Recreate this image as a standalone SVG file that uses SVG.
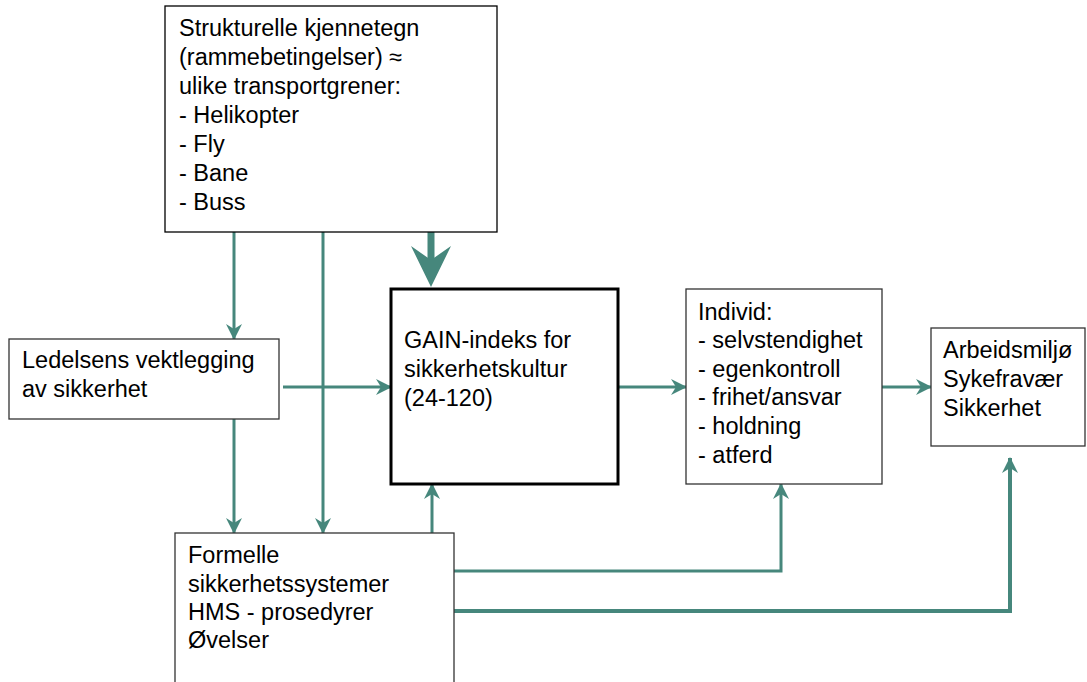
<svg xmlns="http://www.w3.org/2000/svg" width="1087" height="682" viewBox="0 0 1087 682">
<style>
.box{fill:#fff;stroke:#333;stroke-width:1.3}
.main{fill:#fff;stroke:#000;stroke-width:3}
text{font-family:"Liberation Sans",Arial,sans-serif;font-size:23.5px;fill:#000}
.c{fill:none;stroke:#46877C;stroke-width:3}
</style>
<defs>
<marker id="ah" viewBox="0 0 16 16" refX="15" refY="8" markerWidth="16" markerHeight="16" markerUnits="userSpaceOnUse" orient="auto">
<path d="M0,0 L16,8 L0,16 L5,8 z" fill="#46877C"/>
</marker>
</defs>
<rect width="1087" height="682" fill="#fff"/>
<g id="connectors">
<path class="c" d="M234,232 V339" marker-end="url(#ah)"/>
<path class="c" d="M323,232 V533" marker-end="url(#ah)"/>
<path class="c" d="M234,419 V533" marker-end="url(#ah)"/>
<path class="c" d="M283,387 H391" marker-end="url(#ah)"/>
<path class="c" d="M432,533 V484" marker-end="url(#ah)"/>
<path class="c" d="M618,387 H686" marker-end="url(#ah)"/>
<path class="c" d="M882,387 H931" marker-end="url(#ah)"/>
<path class="c" d="M454,571 H781 V484" marker-end="url(#ah)"/>
<path class="c" style="stroke-width:4" d="M454,611 H1010 V458" marker-end="url(#ah)"/>
<rect x="427.5" y="232" width="7" height="30" fill="#46877C"/>
<path d="M431,287 L411,246 L431,260 L451,246 z" fill="#46877C"/>
</g>
<g id="n-struktur">
<rect class="box" x="165" y="6" width="332" height="226" style="stroke:#000"/>
<text x="179" y="36">Strukturelle kjennetegn</text>
<text x="179" y="65">(rammebetingelser) ≈</text>
<text x="179" y="94">ulike transportgrener:</text>
<text x="179" y="123">- Helikopter</text>
<text x="179" y="152">- Fly</text>
<text x="179" y="181">- Bane</text>
<text x="179" y="210">- Buss</text>
</g>
<g id="n-ledelse">
<rect class="box" x="9" y="339" width="270" height="80"/>
<text x="22" y="368">Ledelsens vektlegging</text>
<text x="22" y="397">av sikkerhet</text>
</g>
<g id="n-gain">
<rect class="main" x="391" y="289" width="227" height="195"/>
<text x="404" y="348">GAIN-indeks for</text>
<text x="404" y="377">sikkerhetskultur</text>
<text x="404" y="406">(24-120)</text>
</g>
<g id="n-individ">
<rect class="box" x="686" y="289" width="196" height="195"/>
<text x="698" y="320">Individ:</text>
<text x="698" y="348">- selvstendighet</text>
<text x="698" y="377">- egenkontroll</text>
<text x="698" y="405">- frihet/ansvar</text>
<text x="698" y="434">- holdning</text>
<text x="698" y="463">- atferd</text>
</g>
<g id="n-utfall">
<rect class="box" x="931" y="328" width="154" height="118"/>
<text x="943" y="358">Arbeidsmiljø</text>
<text x="943" y="387">Sykefravær</text>
<text x="943" y="416">Sikkerhet</text>
</g>
<g id="n-formelle">
<rect class="box" x="175" y="533" width="279" height="160"/>
<text x="188" y="563">Formelle</text>
<text x="188" y="592">sikkerhetssystemer</text>
<text x="188" y="620">HMS - prosedyrer</text>
<text x="188" y="648">Øvelser</text>
</g>
</svg>
